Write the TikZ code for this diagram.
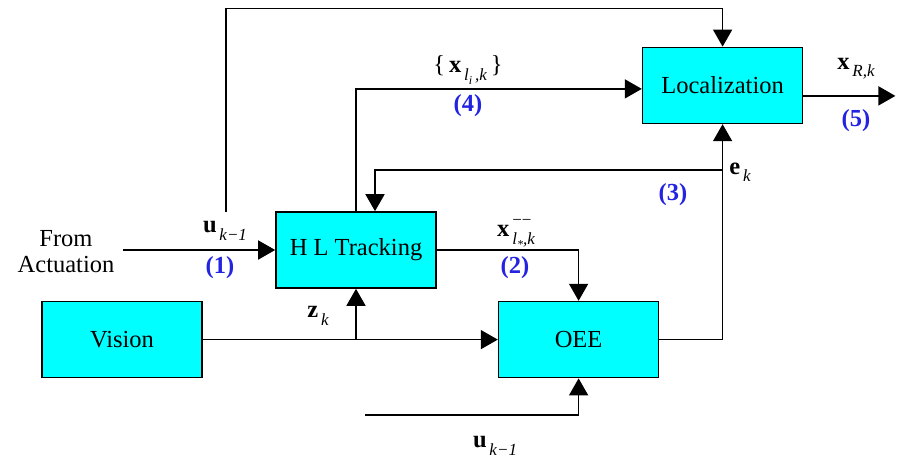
\documentclass[tikz,border=0pt]{standalone}
\usepackage{fontspec}
\setmainfont{Liberation Serif}
\usetikzlibrary{arrows.meta,positioning,calc}
\usepackage{xcolor}
\definecolor{numblue}{RGB}{35,35,225}
\definecolor{boxcyan}{RGB}{0,255,255}
% bold vector with italic subscript, set in text fonts
\newcommand{\vsub}[2]{\textbf{#1}\raisebox{-0.3em}{\fontsize{17}{19}\selectfont\itshape\,#2}}
\newcommand{\tinysub}[1]{\raisebox{-0.25em}{\fontsize{12}{13}\selectfont #1}}

\begin{document}
\begin{tikzpicture}[x=1pt, y=-1pt, >={Triangle[length=17pt,width=19pt]},
    line width=1.6pt, font=\fontsize{24.5}{28}\selectfont,
    block/.style={draw, fill=boxcyan, minimum width=160pt, minimum height=76pt, inner sep=0pt},
    num/.style={text=numblue, font=\fontsize{24.5}{28}\selectfont\bfseries}]
    \useasboundingbox (0,0) rectangle (904,460);
    % blocks
    \node[block] (hl) at (356,250) {H L Tracking};
    \node[block, below right=12pt and 61pt of hl] (oee) {OEE};
    \node[block, left=295pt of oee] (vis) {Vision};
    \node[block, above right=87pt and 205pt of hl] (loc) {Localization};
    % free ends
    \coordinate (act) at (123,250);
    \coordinate (fb) at (226,212);
    \coordinate (uin) at (365,415);
    \coordinate (ek) at (loc.south |- oee.east);
    \coordinate (br) at (loc.south |- 0,170);
    % connectors
    \draw[->] (act) -- (hl.west);
    \draw[->] (fb) |- ([yshift=38pt]loc.north) -- (loc.north);
    \draw[->] (hl.north) |- ([yshift=-3.5pt]loc.west);
    \draw[->] ([yshift=-10.5pt]loc.east) -- ++(92,0) coordinate (out);
    \draw[->] (oee.east) -- (ek) -- (loc.south);
    \draw[->] (br) -| ([xshift=19pt]hl.north);
    \draw[->] (hl.east) -| (oee.north);
    \draw[->] (vis.east) -- (oee.west);
    \draw[->] (hl.south |- vis.east) -- (hl.south);
    \draw[->] (uin) -| (oee.south);
    % labels
    \node[align=center] (from) at (66,252) {From\\[-2pt]Actuation};
    \node (u1) at (225,231) {\vsub{u}{k−1}};
    \node[num] (n1) at (220,268) {(1)};
    \node (xl) at (468,70) {\{\,\vsub{x}{l\tinysub{\itshape i}\,,k}\,\}};
    \node[num] (n4) at (468,106) {(4)};
    \node (xs) at (516,234) {\vsub{x}{\rlap{\raisebox{1.1em}{\upshape −−}}l\tinysub{*},k}};
    \node[num] (n2) at (515,268) {(2)};
    \node (ekl) at (740,172) {\vsub{e}{k}};
    \node[num] (n3) at (673,195) {(3)};
    \node (xr) at (856,69) {\vsub{x}{R,k}};
    \node[num] (n5) at (856,121) {(5)};
    \node (zk) at (318,316) {\vsub{z}{k}};
    \node (u2) at (495,446) {\vsub{u}{k−1}};
\end{tikzpicture}
\end{document}
